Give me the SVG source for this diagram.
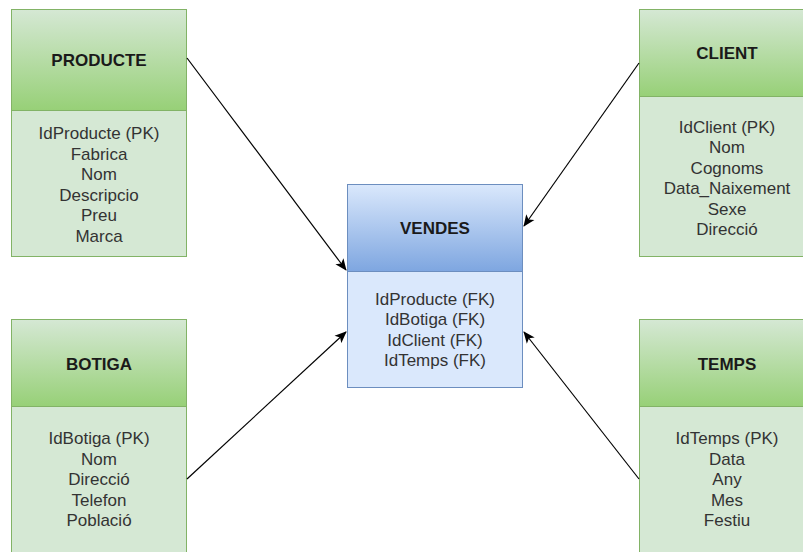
<svg xmlns="http://www.w3.org/2000/svg" width="803" height="552" viewBox="0 0 803 552">
  <defs>
    <linearGradient id="gGreen" x1="0" y1="0" x2="0" y2="1">
      <stop offset="0" stop-color="#d5e8d4"/>
      <stop offset="1" stop-color="#97d077"/>
    </linearGradient>
    <linearGradient id="gBlue" x1="0" y1="0" x2="0" y2="1">
      <stop offset="0" stop-color="#dae8fc"/>
      <stop offset="1" stop-color="#7ea6e0"/>
    </linearGradient>
    <marker id="arrow" viewBox="0 0 12 12" refX="11" refY="6" markerWidth="12" markerHeight="12" markerUnits="userSpaceOnUse" orient="auto">
      <path d="M0,1 L12,6 L0,11 L3,6 Z" fill="#000"/>
    </marker>
  </defs>
  <style>
    .gh { fill: url(#gGreen); stroke: #82b366; stroke-width: 1; }
    .gb { fill: #d5e8d4; stroke: #82b366; stroke-width: 1; }
    .bh { fill: url(#gBlue); stroke: #6c8ebf; stroke-width: 1; }
    .bb { fill: #dae8fc; stroke: #6c8ebf; stroke-width: 1; }
    .title { font-family: "Liberation Sans", Arial, sans-serif; font-size: 17px; font-weight: bold; fill: #1a1a1a; text-anchor: middle; }
    .attr { font-family: "Liberation Sans", Arial, sans-serif; font-size: 17px; fill: #333; text-anchor: middle; }
    .edge { stroke: #000; stroke-width: 1.2; fill: none; marker-end: url(#arrow); }
  </style>
  <rect width="803" height="552" fill="#fff"/>

  <g id="producte">
    <rect class="gh" x="11.5" y="9.5" width="175" height="101"/>
    <rect class="gb" x="11.5" y="110.5" width="175" height="146"/>
    <text class="title" x="99" y="65.5">PRODUCTE</text>
    <text class="attr" x="99" y="139">IdProducte (PK)</text>
    <text class="attr" x="99" y="159.5">Fabrica</text>
    <text class="attr" x="99" y="180">Nom</text>
    <text class="attr" x="99" y="200.5">Descripcio</text>
    <text class="attr" x="99" y="221">Preu</text>
    <text class="attr" x="99" y="241.5">Marca</text>
  </g>

  <g id="client">
    <rect class="gh" x="639.5" y="9.5" width="175" height="87"/>
    <rect class="gb" x="639.5" y="96.5" width="175" height="160"/>
    <text class="title" x="727" y="58.5">CLIENT</text>
    <text class="attr" x="727" y="132.5">IdClient (PK)</text>
    <text class="attr" x="727" y="153">Nom</text>
    <text class="attr" x="727" y="173.5">Cognoms</text>
    <text class="attr" x="727" y="194">Data_Naixement</text>
    <text class="attr" x="727" y="214.5">Sexe</text>
    <text class="attr" x="727" y="235">Direcció</text>
  </g>

  <g id="vendes">
    <rect class="bh" x="347.5" y="184.5" width="175" height="87"/>
    <rect class="bb" x="347.5" y="271.5" width="175" height="116"/>
    <text class="title" x="435" y="233.5">VENDES</text>
    <text class="attr" x="435" y="304.5">IdProducte (FK)</text>
    <text class="attr" x="435" y="325">IdBotiga (FK)</text>
    <text class="attr" x="435" y="345.5">IdClient (FK)</text>
    <text class="attr" x="435" y="366">IdTemps (FK)</text>
  </g>

  <g id="botiga">
    <rect class="gh" x="11.5" y="319.5" width="175" height="87"/>
    <rect class="gb" x="11.5" y="406.5" width="175" height="160"/>
    <text class="title" x="99" y="369.5">BOTIGA</text>
    <text class="attr" x="99" y="444">IdBotiga (PK)</text>
    <text class="attr" x="99" y="464.5">Nom</text>
    <text class="attr" x="99" y="485">Direcció</text>
    <text class="attr" x="99" y="505.5">Telefon</text>
    <text class="attr" x="99" y="526">Població</text>
  </g>

  <g id="temps">
    <rect class="gh" x="639.5" y="319.5" width="175" height="87"/>
    <rect class="gb" x="639.5" y="406.5" width="175" height="160"/>
    <text class="title" x="727" y="369.5">TEMPS</text>
    <text class="attr" x="727" y="444">IdTemps (PK)</text>
    <text class="attr" x="727" y="464.5">Data</text>
    <text class="attr" x="727" y="485">Any</text>
    <text class="attr" x="727" y="505.5">Mes</text>
    <text class="attr" x="727" y="526">Festiu</text>
  </g>

  <g id="connectors">
    <line class="edge" x1="187" y1="58" x2="346" y2="270"/>
    <line class="edge" x1="639" y1="63" x2="524" y2="226"/>
    <line class="edge" x1="187" y1="479" x2="346" y2="332"/>
    <line class="edge" x1="639" y1="479" x2="524" y2="332"/>
  </g>
</svg>
